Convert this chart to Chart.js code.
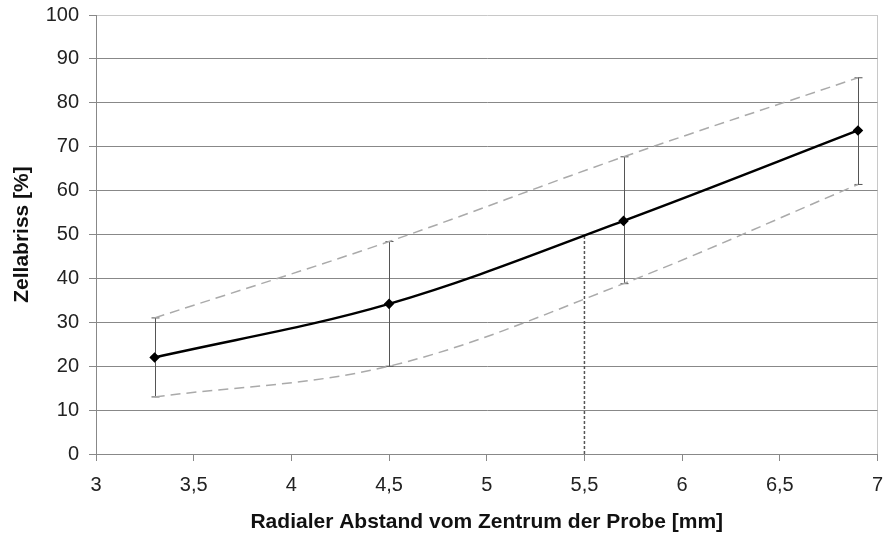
<!DOCTYPE html>
<html lang="de">
<head>
  <meta charset="UTF-8" />
  <title>Zellabriss</title>
  <script src="https://cdn.jsdelivr.net/npm/chart.js"></script>
  <style>
    html, body { margin: 0; padding: 0; background: #fff; }
    #wrap { width: 884px; height: 537px; }
  </style>
</head>
<body>
  <div id="wrap"><canvas id="zellChart"></canvas></div>

  <script>
    // Messwerte
    const radius = [3.3, 4.5, 5.7, 6.9];
    const mittel = [22.0, 34.2, 53.1, 73.7];
    const oben   = [31.0, 48.4, 67.7, 85.7];
    const unten  = [13.0, 20.0, 38.8, 61.4];
    // 50%-Marke
    const markeX = [5.5, 5.5];
    const markeY = [0, 50];

    const pts = (xs, ys) => xs.map((x, i) => ({ x: x, y: ys[i] }));

    // Fehlerbalken mit kleinen Endstrichen
    const errorBars = {
      id: 'errorBars',
      beforeDatasetsDraw(chart) {
        const { ctx, scales: { x, y } } = chart;
        ctx.save();
        ctx.strokeStyle = '#555';
        ctx.lineWidth = 1;
        radius.forEach((r, i) => {
          const px = Math.round(x.getPixelForValue(r)) + 0.5;
          const top = y.getPixelForValue(oben[i]);
          const bot = y.getPixelForValue(unten[i]);
          ctx.beginPath();
          ctx.moveTo(px, top); ctx.lineTo(px, bot);
          ctx.moveTo(px - 4, top); ctx.lineTo(px + 4, top);
          ctx.moveTo(px - 4, bot); ctx.lineTo(px + 4, bot);
          ctx.stroke();
        });
        ctx.restore();
      }
    };

    const font = { family: "'Liberation Sans', Arial, sans-serif", size: 20 };
    const titleFont = { family: "'Liberation Sans', Arial, sans-serif", size: 21, weight: 'bold' };

    new Chart(document.getElementById('zellChart'), {
      type: 'line',
      data: {
        datasets: [
          {
            data: pts(radius, mittel),
            borderColor: '#000',
            borderWidth: 2.5,
            tension: 0.35,
            pointStyle: 'rectRot',
            pointRadius: 3.5,
            pointBackgroundColor: '#000',
            pointBorderColor: '#000'
          },
          {
            data: pts(radius, oben),
            borderColor: '#aaa',
            borderWidth: 1.5,
            borderDash: [10, 6],
            tension: 0.35,
            pointRadius: 0
          },
          {
            data: pts(radius, unten),
            borderColor: '#aaa',
            borderWidth: 1.5,
            borderDash: [10, 6],
            tension: 0.35,
            pointRadius: 0
          },
          {
            data: pts(markeX, markeY),
            borderColor: '#555',
            borderWidth: 1.5,
            borderDash: [3, 2],
            pointRadius: 0
          }
        ]
      },
      options: {
        responsive: true,
        maintainAspectRatio: false,
        animation: false,
        layout: { padding: { top: 15, right: 6, left: 0, bottom: 0 } },
        plugins: { legend: { display: false }, tooltip: { enabled: false } },
        scales: {
          x: {
            type: 'linear',
            min: 3, max: 7,
            afterFit: s => { s.height = 83; s.paddingLeft = 0; s.paddingRight = 0; },
            ticks: {
              stepSize: 0.5,
              font: font, color: '#222', padding: 12,
              callback: v => String(v).replace('.', ',')
            },
            grid: {
              color: c => (c.tick && c.tick.value === 7) ? '#c8c8c8' : 'rgba(0,0,0,0)',
              tickColor: '#888',
              tickLength: 7
            },
            border: { color: '#888' },
            title: {
              display: true,
              text: 'Radialer Abstand vom Zentrum der Probe [mm]',
              font: titleFont, color: '#111',
              padding: { top: 0, bottom: 2 }
            }
          },
          y: {
            min: 0, max: 100,
            afterFit: s => { s.width = 96; s.paddingTop = 0; s.paddingBottom = 0; },
            ticks: { stepSize: 10, font: font, color: '#222', padding: 10 },
            grid: {
              color: c => (c.tick && c.tick.value === 100) ? '#c8c8c8' : '#888',
              tickColor: '#888',
              tickLength: 7
            },
            border: { color: '#888' },
            title: {
              display: true,
              text: 'Zellabriss [%]',
              font: titleFont, color: '#111',
              padding: { top: 10, bottom: 0 }
            }
          }
        }
      },
      plugins: [errorBars]
    });
  </script>
</body>
</html>
